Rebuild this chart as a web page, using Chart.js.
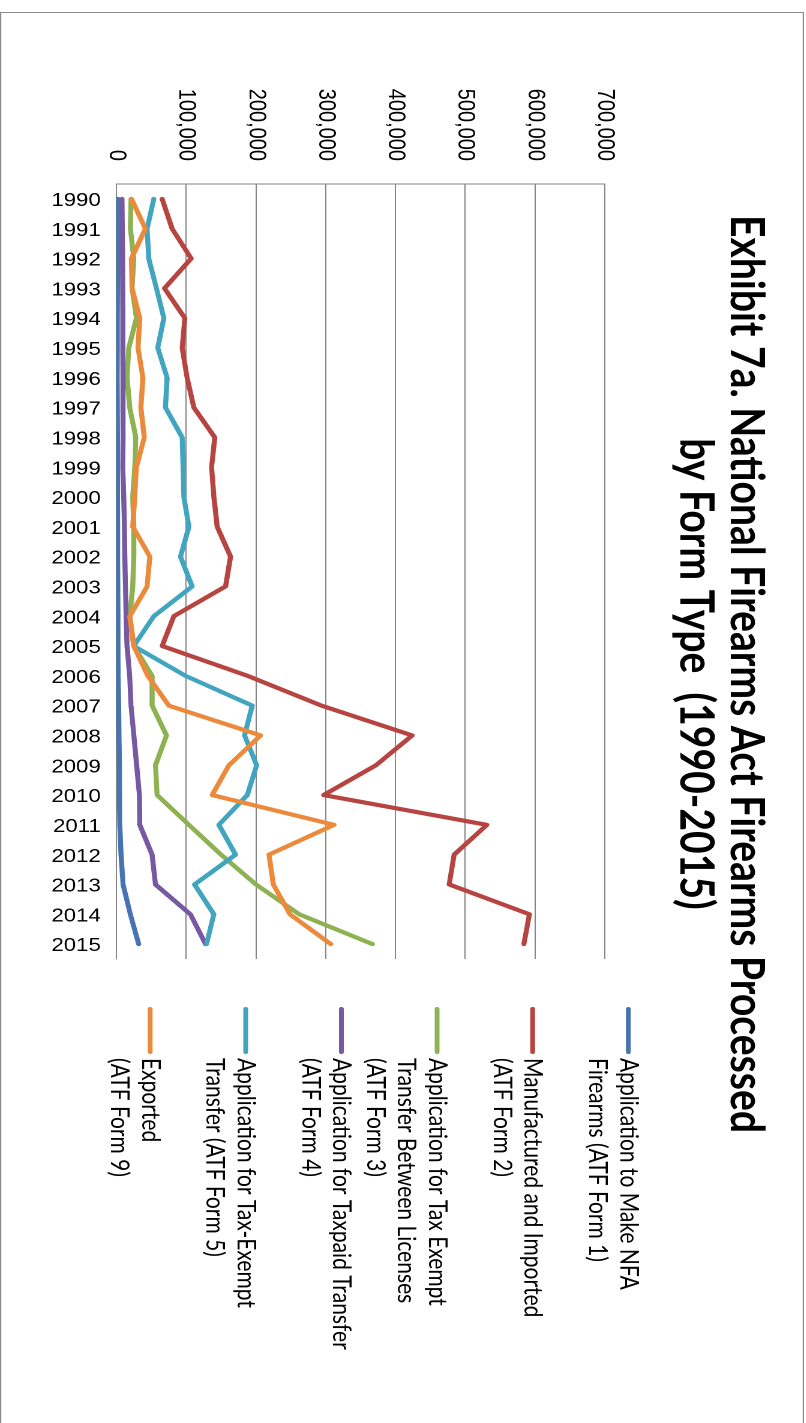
<!DOCTYPE html>
<html>
<head>
<meta charset="utf-8">
<script src="https://cdn.jsdelivr.net/npm/chart.js@4.4.0/dist/chart.umd.min.js"></script>
<style>
  html, body { margin: 0; padding: 0; background: #fff; overflow: hidden; }
  #frame {
    position: absolute;
    left: 0;
    top: 12px;
    width: 1430px;
    height: 670px;
    box-sizing: border-box;
    border: 1px solid #8c8c8c;
    background: #fff;
    transform-origin: 0 0;
    /* the picture is the chart turned a quarter turn clockwise */
    transform: translateX(804px) scaleX(1.2) rotate(90deg);
  }
  #graph { position: absolute; left: 0; top: 0; }
</style>
</head>
<body>
<div id="frame"><canvas id="graph" width="1428" height="668"></canvas></div>
<script>
const years = ["1990", "1991", "1992", "1993", "1994", "1995", "1996", "1997", "1998", "1999",
  "2000", "2001", "2002", "2003", "2004", "2005", "2006", "2007", "2008", "2009",
  "2010", "2011", "2012", "2013", "2014", "2015"];

const form1 = [2400, 2000, 1800, 1500, 1400, 1300, 1200, 1300, 1500, 1500, 1600, 1700, 1800,
  2000, 2200, 2300, 2400, 3300, 3800, 4300, 4300, 4800, 6700, 9600, 20000, 32000];
const form2 = [65600, 79900, 107200, 68900, 98100, 94300, 101400, 111000, 141000, 136400, 139700,
  144500, 163600, 156500, 82300, 65600, 188000, 294000, 424000, 372000, 297000, 531000, 484000,
  477000, 592000, 584000];
const form3 = [21000, 20100, 24900, 22500, 28700, 17700, 15300, 19100, 27800, 26300, 23400, 24900,
  24900, 23400, 19100, 24900, 51200, 51200, 71800, 56000, 58400, 104000, 150000, 200000, 262000,
  367000];
const form4 = [8100, 8500, 8800, 9000, 9200, 9300, 9400, 9500, 9600, 9100, 10500, 11500, 12000,
  13000, 13900, 15300, 19000, 21000, 25000, 29000, 33000, 33500, 51200, 56000, 106000, 127800];
const form5 = [53600, 44000, 46400, 57400, 68000, 59300, 72700, 70300, 94300, 95700, 96700, 103900,
  91900, 108600, 53600, 24900, 99000, 194700, 183700, 201000, 187600, 146900, 170800, 112000,
  139700, 129200];
const form9 = [21500, 41600, 21500, 22500, 33500, 31000, 38000, 35000, 40000, 28700, 26300, 23400,
  47900, 44000, 19100, 24900, 45000, 75100, 206700, 161300, 137300, 312000, 218700, 224900, 248800,
  307200];

const valueTicks = [0, 100000, 200000, 300000, 400000, 500000, 600000, 700000];

const seriesNames = [
  ["Application to Make NFA", "Firearms (ATF Form 1)"],
  ["Manufactured and Imported", "(ATF Form 2)"],
  ["Application for Tax Exempt", "Transfer Between Licenses", "(ATF Form 3)"],
  ["Application for Taxpaid Transfer", "(ATF Form 4)"],
  ["Application for Tax-Exempt", "Transfer (ATF Form 5)"],
  ["Exported", "(ATF Form 9)"],
];
const seriesColors = ["#4674b0", "#b64542", "#8eb152", "#7659a0", "#41a5c0", "#ec8a3c"];
const seriesData = [form1, form2, form3, form4, form5, form9];

const titleLines = ["Exhibit 7a. National Firearms Act Firearms Processed", "by Form Type  (1990-2015)"];

// title and the wrapped legend on the right
const sideText = {
  id: "sideText",
  afterDraw(chart) {
    const ctx = chart.ctx;
    ctx.save();
    ctx.fillStyle = "#000";
    ctx.textAlign = "center";
    ctx.textBaseline = "alphabetic";
    ctx.font = "bold 35px Lato";
    const w = ctx.measureText(titleLines[0]).width;
    const size = 35 * 918 / w;
    ctx.font = "bold " + size.toFixed(1) + "px Lato";
    ctx.fillText(titleLines[0], 661, 60);
    ctx.fillText(titleLines[1], 661, 102);

    ctx.textAlign = "left";
    ctx.textBaseline = "middle";
    ctx.font = "21px Lato";
    chart.data.datasets.forEach(function (ds, i) {
      const v = 145.4 + i * 79.7;
      ctx.strokeStyle = ds.borderColor;
      ctx.lineWidth = 4;
      ctx.lineCap = "round";
      ctx.beginPath();
      ctx.moveTo(996, v);
      ctx.lineTo(1039, v);
      ctx.stroke();
      seriesNames[i].forEach(function (line, j) {
        ctx.fillText(line, 1045, v + j * 25.8);
      });
    });
    ctx.restore();
  },
};

const graph = document.getElementById("graph");
new Chart(graph, {
  type: "line",
  data: {
    labels: years,
    datasets: seriesData.map(function (vals, i) {
      return {
        label: seriesNames[i].join(" "),
        data: vals,
        borderColor: seriesColors[i],
        backgroundColor: seriesColors[i],
        borderWidth: 4.2,
        pointRadius: 0,
        tension: 0,
        borderJoinStyle: "round",
        borderCapStyle: "round",
        order: seriesData.length - i,
      };
    }),
  },
  options: {
    responsive: false,
    animation: false,
    devicePixelRatio: 2,
    layout: { padding: { top: 165, right: 482, left: 1, bottom: 0 } },
    plugins: {
      legend: { display: false },
      title: { display: false },
      tooltip: { enabled: false },
    },
    scales: {
      x: {
        type: "category",
        offset: true,
        grid: { display: false, drawTicks: false },
        border: { display: true, color: "#868686", width: 1 },
        ticks: {
          autoSkip: false,
          minRotation: 90,
          maxRotation: 90,
          padding: 13,
          labelOffset: 2,
          color: "#000",
          font: { family: "Liberation Sans", size: 18.5 },
        },
        afterFit: function (scale) { scale.height = 96; },
      },
      y: {
        min: 0,
        max: 700000,
        grid: { color: "#868686", lineWidth: 1, drawTicks: false },
        border: { display: true, color: "#868686", width: 1 },
        ticks: {
          padding: 23,
          color: "#000",
          font: { family: "Liberation Sans", size: 20 },
        },
        afterBuildTicks: function (scale) {
          scale.ticks = valueTicks.map(function (v) { return { value: v }; });
        },
        afterFit: function (scale) { scale.width = 170; },
      },
    },
  },
  plugins: [sideText],
});
</script>
</body>
</html>
